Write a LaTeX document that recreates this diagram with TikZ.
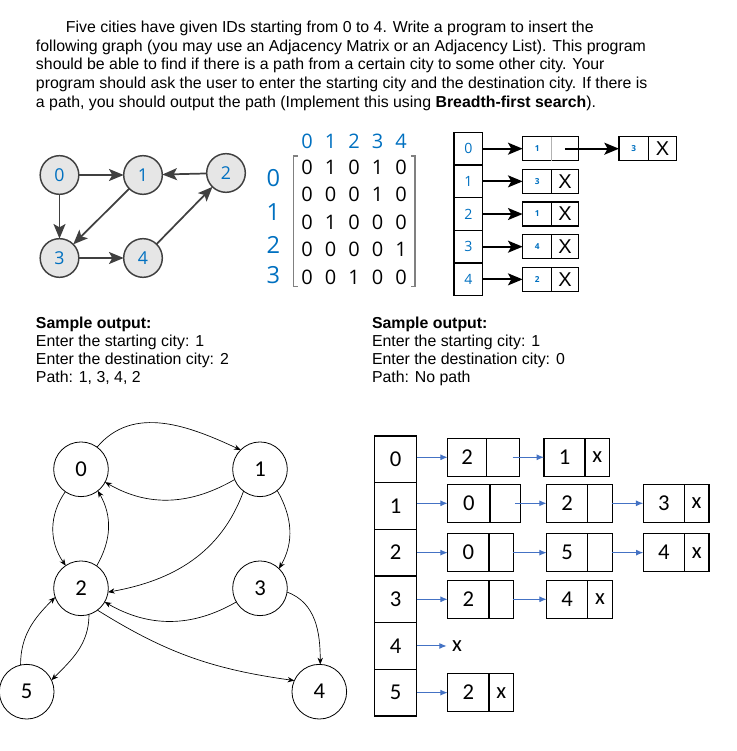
\documentclass[tikz,border=0pt]{standalone}
\usepackage{fontspec}
\setmainfont{Liberation Sans}
\newfontfamily\calibri{Carlito}
\newfontfamily\segoe{Open Sans}
\usetikzlibrary{arrows.meta,positioning}
\definecolor{idblue}{RGB}{0,112,192}
\definecolor{listblue}{RGB}{68,114,196}
\definecolor{edgegray}{RGB}{64,64,64}
\definecolor{nodegray}{RGB}{230,230,230}
\definecolor{bracketgray}{RGB}{128,128,128}

\begin{document}
\begin{tikzpicture}[
    x=0.75pt, y=0.75pt,
    every node/.style={inner sep=0pt, outer sep=0pt},
    % top graph
    city/.style={circle, draw=edgegray, fill=nodegray, line width=1.1pt, minimum size=29pt, text=idblue, font=\segoe\fontsize{13.3}{13.3}\selectfont},
    road/.style={edgegray, line width=1.3pt, -{Stealth[length=11pt,width=9pt,inset=2.5pt]}},
    % matrix
    colhead/.style={text=idblue, font=\segoe\fontsize{15}{15}\selectfont},
    rowhead/.style={text=idblue, font=\segoe\fontsize{17.7}{17.7}\selectfont},
    bit/.style={font=\segoe\fontsize{15}{15}\selectfont},
    % top list
    headbox/.style={draw, line width=1.1pt, minimum width=21.5pt, minimum height=24.5pt, text=idblue, font=\segoe\fontsize{10.6}{10.6}\selectfont},
    cell/.style={draw, line width=1.1pt, minimum height=18pt, minimum width=#1},
    tinyid/.style={text=idblue, font=\segoe\bfseries\fontsize{6.2}{6.2}\selectfont},
    bigx/.style={font=\fontsize{15}{15}\selectfont},
    link/.style={line width=1.3pt, -{Stealth[length=11pt,width=9pt,inset=2.5pt]}},
    % bottom graph
    vertex/.style={circle, draw, line width=0.6pt, minimum size=41pt, font=\calibri\fontsize{17}{17}\selectfont},
    hop/.style={line width=0.5pt, -{Stealth[length=5pt,width=4pt]}},
    % bottom list
    slot/.style={draw, line width=0.9pt, minimum width=31.8pt, minimum height=35pt, font=\calibri\fontsize{17}{17}\selectfont},
    box/.style={draw, line width=0.9pt, minimum height=28.3pt, minimum width=#1, font=\calibri\fontsize{17}{17}\selectfont},
    ptr/.style={listblue, line width=0.8pt, -{Latex[length=5.5pt,width=4.5pt]}}
]
    \useasboundingbox (0,0) rectangle (737,751);

    % --- TASK TEXT ---
    \node[anchor=north west, align=left, font=\fontsize{11.9}{14}\selectfont] (task) at (36,730)
        {\hspace*{22.5pt}Five cities have given IDs starting from 0 to 4. Write a program to insert the\\
        following graph (you may use an Adjacency Matrix or an Adjacency List). This program\\
        should be able to find if there is a path from a certain city to some other city. Your\\
        program should ask the user to enter the starting city and the destination city. If there is\\
        a path, you should output the path (Implement this using \textbf{Breadth-first search}).};

    % --- TOP GRAPH ---
    \node[city] (g0) at (59.5,576) {0};
    \node[city] (g1) at (143,576) {1};
    \node[city] (g2) at (226,578) {2};
    \node[city] (g3) at (59.5,493) {3};
    \node[city] (g4) at (143,493) {4};

    \draw[road] (g0) -- (g1);
    \draw[road] (g2) -- (g1);
    \draw[road] (g0) -- (g3);
    \draw[road] (g1) -- (g3);
    \draw[road] (g3) -- (g4);
    \draw[road] (g4) -- (g2);

    % --- ADJACENCY MATRIX ---
    \foreach \c in {0,...,4}
        \node[colhead] (h\c) at (307+23.5*\c,609.5) {\c};
    \foreach \r/\yy in {0/572.7,1/539.3,2/506,3/476}
        \node[rowhead] (r\r) at (273.3,\yy) {\r};
    \foreach \entries [count=\r from 0] in {{0,1,0,1,0},{0,0,0,1,0},{0,1,0,0,0},{0,0,0,0,1},{0,0,1,0,0}}
        \foreach \v [count=\c from 0] in \entries
            \node[bit] (m\r\c) at (307+23.5*\c,584-27.5*\r) {\v};

    % Brackets
    \draw[bracketgray, line width=1.1pt] (297.5,595) -- (293.3,595) -- (293.3,464.3) -- (297.5,464.3);
    \draw[bracketgray, line width=1.1pt] (410.8,595) -- (415,595) -- (415,464.3) -- (410.8,464.3);

    % --- TOP ADJACENCY LIST ---
    \node[headbox] (t0) at (468.3,602.3) {0};
    \node[headbox, below=0pt of t0] (t1) {1};
    \node[headbox, below=0pt of t1] (t2) {2};
    \node[headbox, below=0pt of t2] (t3) {3};
    \node[headbox, below=0pt of t3] (t4) {4};

    % Row 0 (thin divider)
    \node[cell=21.75pt, tinyid, draw=none, right=30pt of t0] (a0) {1};
    \node[cell=20pt, draw=none, right=0pt of a0] (a0r) {};
    \draw[line width=1.1pt] (a0.north west) rectangle (a0r.south east);
    \draw[gray!60, line width=0.4pt] (a0.north east) -- (a0.south east);
    \node[cell=22pt, tinyid, right=30.5pt of a0r] (b0) {3};
    \node[cell=21.3pt, bigx, right=0pt of b0] (b0r) {X};

    % Rows 1-4
    \node[cell=21.75pt, tinyid, right=30pt of t1] (a1) {3};
    \node[cell=20pt, bigx, right=0pt of a1] (a1r) {X};
    \node[cell=21.75pt, tinyid, right=30pt of t2] (a2) {1};
    \node[cell=20pt, bigx, right=0pt of a2] (a2r) {X};
    \node[cell=21.75pt, tinyid, right=30pt of t3] (a3) {4};
    \node[cell=20pt, bigx, right=0pt of a3] (a3r) {X};
    \node[cell=21.75pt, tinyid, right=30pt of t4] (a4) {2};
    \node[cell=20pt, bigx, right=0pt of a4] (a4r) {X};

    \draw[link] (t0) -- (a0);
    \draw[link] (a0r.center) -- (b0);
    \draw[link] (t1) -- (a1);
    \draw[link] (t2) -- (a2);
    \draw[link] (t3) -- (a3);
    \draw[link] (t4) -- (a4);

    % --- SAMPLE OUTPUTS ---
    \node[anchor=north west, align=left, font=\fontsize{11.9}{13.5}\selectfont] (sampleA) at (36,434.3)
        {\textbf{Sample output:}\\Enter the starting city: 1\\Enter the destination city: 2\\Path: 1, 3, 4, 2};
    \node[anchor=north west, align=left, font=\fontsize{11.9}{13.5}\selectfont] (sampleB) at (372,434.3)
        {\textbf{Sample output:}\\Enter the starting city: 1\\Enter the destination city: 0\\Path: No path};

    % --- BOTTOM GRAPH ---
    \node[vertex] (v0) at (81,281.7) {0};
    \node[vertex] (v1) at (260,281.7) {1};
    \node[vertex] (v2) at (81,162.7) {2};
    \node[vertex] (v3) at (260,162.7) {3};
    \node[vertex] (v4) at (319.3,59.3) {4};
    \node[vertex] (v5) at (26.7,59.3) {5};

    \draw[hop] (v0.54) to[out=50,in=155] (v1.135);
    \draw[hop] (v1.202) to[out=210,in=-30] (v0.-28);
    \draw[hop] (v0.235) to[out=235,in=125] (v2.124);
    \draw[hop] (v2.55) to[out=60,in=-60] (v0.-52);
    \draw[hop] (v1.233) to[out=250,in=10] (v2.-8);
    \draw[hop] (v1.-51) to[out=-60,in=60] (v3.46);
    \draw[hop] (v3.210) to[out=210,in=-30] (v2.-30);
    \draw[hop] (v2.-53) to[out=-32,in=172] (v4.156);
    \draw[hop] (v3.-8) to[out=-20,in=90] (v4.88);
    \draw[hop] (v2.-73) to[out=-90,in=45] (v5.25);
    \draw[hop] (v5.103) to[out=90,in=225] (v2.199);

    % --- BOTTOM ADJACENCY LIST ---
    \node[slot] (s0) at (395.5,291.7) {0};
    \node[slot, below=0pt of s0] (s1) {1};
    \node[slot, below=0pt of s1] (s2) {2};
    \node[slot, below=0pt of s2] (s3) {3};
    \node[slot, below=0pt of s3] (s4) {4};
    \node[slot, below=0pt of s4] (s5) {5};

    % Row 0
    \node[box=29.25pt, right=23.25pt of s0, yshift=1.5pt] (p0a) {2};
    \node[box=24.5pt, right=0pt of p0a] (p0ar) {};
    \node[box=30.75pt, right=18.5pt of p0ar] (p0b) {1};
    \node[box=18.25pt, right=0pt of p0b] (p0br) {x};
    % Row 1
    \node[box=31.7pt, right=23.25pt of s1, yshift=2pt] (p1a) {0};
    \node[box=22.7pt, right=0pt of p1a] (p1ar) {};
    \node[box=30.75pt, right=19.8pt of p1ar] (p1b) {2};
    \node[box=18.5pt, right=0pt of p1b] (p1br) {};
    \node[box=30.75pt, right=23.25pt of p1br] (p1c) {3};
    \node[box=18.5pt, right=0pt of p1c] (p1cr) {x};
    % Row 2
    \node[box=31pt, right=23.25pt of s2] (p2a) {0};
    \node[box=18.25pt, right=0pt of p2a] (p2ar) {};
    \node[box=30.75pt, right=25pt of p2ar] (p2b) {5};
    \node[box=18.5pt, right=0pt of p2b] (p2br) {};
    \node[box=30.75pt, right=23.25pt of p2br] (p2c) {4};
    \node[box=18.5pt, right=0pt of p2c] (p2cr) {x};
    % Row 3
    \node[box=31pt, right=23.25pt of s3] (p3a) {2};
    \node[box=18.25pt, right=0pt of p3a] (p3ar) {};
    \node[box=30.75pt, right=25pt of p3ar] (p3b) {4};
    \node[box=18.5pt, right=0pt of p3b] (p3br) {x};
    % Row 4
    \node[right=22.5pt of s4, inner sep=4pt, font=\calibri\fontsize{17}{17}\selectfont] (p4) {x};
    % Row 5
    \node[box=31pt, right=23.25pt of s5] (p5a) {2};
    \node[box=18.25pt, right=0pt of p5a] (p5ar) {x};

    \draw[ptr] (s0.east |- p0a) -- (p0a);
    \draw[ptr] ([xshift=-5pt]p0ar.east) -- (p0b);
    \draw[ptr] (s1.east |- p1a) -- (p1a);
    \draw[ptr] ([xshift=-4pt]p1ar.east) -- (p1b);
    \draw[ptr] (p1br) -- (p1c);
    \draw[ptr] (s2.east |- p2a) -- (p2a);
    \draw[ptr] (p2ar) -- (p2b);
    \draw[ptr] (p2br) -- (p2c);
    \draw[ptr] (s3.east |- p3a) -- (p3a);
    \draw[ptr] (p3ar) -- (p3b);
    \draw[ptr] (s4) -- (p4);
    \draw[ptr] (s5.east |- p5a) -- (p5a);

\end{tikzpicture}
\end{document}
